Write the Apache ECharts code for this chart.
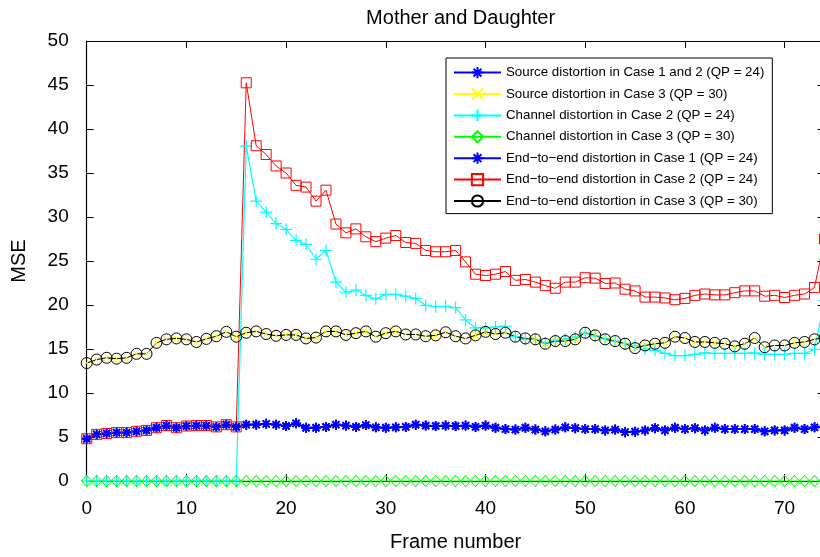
<!DOCTYPE html>
<html>
<head>
<meta charset="utf-8">
<title>Mother and Daughter</title>
<script src="https://cdn.jsdelivr.net/npm/echarts@6/dist/echarts.min.js"></script>
<style>
  html, body { margin: 0; padding: 0; background: #fff; overflow: hidden; }
  /* the axes box runs slightly past the right edge of the view */
  #chart { width: 840px; height: 557px; }
</style>
</head>
<body>
<div id="chart"></div>
<script>
// Frame numbers 0..74
const frames = [];
for (let i = 0; i <= 74; i++) frames.push(i);

const yTicks = [0, 5, 10, 15, 20, 25, 30, 35, 40, 45, 50];
const xTicks = [0, 10, 20, 30, 40, 50, 60, 70];

const seriesNames = [
  'Source distortion in Case 1 and 2 (QP = 24)',
  'Source distortion in Case 3 (QP = 30)',
  'Channel distortion in Case 2 (QP = 24)',
  'Channel distortion in Case 3 (QP = 30)',
  'End\u2212to\u2212end distortion in Case 1 (QP = 24)',
  'End\u2212to\u2212end distortion in Case 2 (QP = 24)',
  'End\u2212to\u2212end distortion in Case 3 (QP = 30)'
];

// MSE per frame
const sourceCase12 = [
  4.8, 5.3, 5.4, 5.5, 5.5, 5.65, 5.75, 6.05, 6.3, 6.05,
  6.25, 6.3, 6.3, 6.15, 6.4, 6.15, 6.4, 6.4, 6.5, 6.4,
  6.25, 6.55, 6.05, 6.05, 6.15, 6.4, 6.3, 6.15, 6.35, 6.1,
  6.05, 6.1, 6.15, 6.4, 6.3, 6.25, 6.3, 6.25, 6.3, 6.15,
  6.3, 6.05, 5.9, 5.85, 6.05, 5.85, 5.65, 5.85, 6.1, 6.0,
  5.9, 5.9, 5.75, 5.85, 5.55, 5.6, 5.75, 6.0, 5.75, 6.05,
  5.9, 6.0, 5.75, 6.05, 5.9, 5.9, 5.9, 5.9, 5.65, 5.75,
  5.75, 6.05, 5.9, 6.1, 6.2
];

const sourceCase3 = [
  13.4, 13.8, 14.0, 13.9, 14.0, 14.45, 14.45, 15.7, 16.1, 16.2,
  16.1, 15.8, 16.15, 16.45, 16.95, 16.4, 16.85, 17.0, 16.7, 16.5,
  16.6, 16.6, 16.2, 16.3, 17.0, 17.0, 16.6, 16.8, 17.0, 16.4,
  16.8, 17.0, 16.65, 16.65, 16.45, 16.55, 16.9, 16.45, 16.2, 16.55,
  16.95, 16.7, 16.85, 16.4, 16.2, 16.1, 15.6, 15.9, 15.9, 16.1,
  16.85, 16.55, 16.1, 15.9, 15.6, 15.1, 15.4, 15.6, 15.7, 16.4,
  16.25, 15.8, 15.8, 15.7, 15.6, 15.3, 15.6, 16.25, 15.2, 15.4,
  15.4, 15.7, 15.8, 16.1, 16.3
];

const channelCase2 = [
  0, 0, 0, 0, 0, 0, 0, 0, 0, 0,
  0, 0, 0, 0, 0, 0, 38.05, 31.8, 30.55, 29.25,
  28.6, 27.35, 26.9, 25.2, 26.2, 22.6, 21.45, 21.7, 21.1, 20.7,
  21.2, 21.2, 21.0, 20.75, 19.95, 19.8, 19.85, 19.7, 18.3, 17.4,
  17.4, 17.5, 17.6, 16.4, 16.1, 16.1, 15.7, 16.0, 16.15, 16.35,
  16.8, 16.5, 16.15, 15.9, 15.6, 15.4, 15.0, 14.85, 14.5, 14.25,
  14.25, 14.4, 14.55, 14.5, 14.5, 14.5, 14.5, 14.55, 14.4, 14.4,
  14.4, 14.5, 14.5, 14.95, 20.5
];

const channelCase3 = [
  0, 0, 0, 0, 0, 0, 0, 0, 0, 0,
  0, 0, 0, 0, 0, 0, 0, 0, 0, 0,
  0, 0, 0, 0, 0, 0, 0, 0, 0, 0,
  0, 0, 0, 0, 0, 0, 0, 0, 0, 0,
  0, 0, 0, 0, 0, 0, 0, 0, 0, 0,
  0, 0, 0, 0, 0, 0, 0, 0, 0, 0,
  0, 0, 0, 0, 0, 0, 0, 0, 0, 0,
  0, 0, 0, 0, 0
];

const endToEndCase1 = [
  4.8, 5.3, 5.4, 5.5, 5.5, 5.65, 5.75, 6.05, 6.3, 6.05,
  6.25, 6.3, 6.3, 6.15, 6.4, 6.15, 6.4, 6.4, 6.5, 6.4,
  6.25, 6.55, 6.05, 6.05, 6.15, 6.4, 6.3, 6.15, 6.35, 6.1,
  6.05, 6.1, 6.15, 6.4, 6.3, 6.25, 6.3, 6.25, 6.3, 6.15,
  6.3, 6.05, 5.9, 5.85, 6.05, 5.85, 5.65, 5.85, 6.1, 6.0,
  5.9, 5.9, 5.75, 5.85, 5.55, 5.6, 5.75, 6.0, 5.75, 6.05,
  5.9, 6.0, 5.75, 6.05, 5.9, 5.9, 5.9, 5.9, 5.65, 5.75,
  5.75, 6.05, 5.9, 6.1, 6.2
];

const endToEndCase2 = [
  4.8, 5.3, 5.4, 5.5, 5.5, 5.65, 5.75, 6.05, 6.3, 6.05,
  6.25, 6.3, 6.3, 6.15, 6.4, 6.15, 45.25, 38.1, 37.1, 35.8,
  35.0, 33.6, 33.4, 31.8, 33.05, 29.2, 28.2, 28.65, 27.75, 27.2,
  27.6, 27.9, 27.1, 27.0, 26.2, 26.05, 26.05, 26.2, 24.9, 23.5,
  23.35, 23.5, 23.8, 22.8, 22.9, 22.6, 22.2, 21.9, 22.6, 22.6,
  23.1, 23.05, 22.45, 22.5, 21.8, 21.6, 20.9, 20.9, 20.8, 20.6,
  20.75, 21.1, 21.25, 21.15, 21.15, 21.4, 21.6, 21.6, 21.0, 21.1,
  20.85, 21.1, 21.25, 22.0, 27.5
];

const endToEndCase3 = [
  13.4, 13.8, 14.0, 13.9, 14.0, 14.45, 14.45, 15.7, 16.1, 16.2,
  16.1, 15.8, 16.15, 16.45, 16.95, 16.4, 16.85, 17.0, 16.7, 16.5,
  16.6, 16.6, 16.2, 16.3, 17.0, 17.0, 16.6, 16.8, 17.0, 16.4,
  16.8, 17.0, 16.65, 16.65, 16.45, 16.55, 16.9, 16.45, 16.2, 16.55,
  16.95, 16.7, 16.85, 16.4, 16.2, 16.1, 15.6, 15.9, 15.9, 16.1,
  16.85, 16.55, 16.1, 15.9, 15.6, 15.1, 15.4, 15.6, 15.7, 16.4,
  16.25, 15.8, 15.8, 15.7, 15.6, 15.3, 15.6, 16.25, 15.2, 15.4,
  15.4, 15.7, 15.8, 16.1, 16.3
];

const FONT = '"Liberation Sans", Arial, Helvetica, sans-serif';

// Stroked marker shapes
const ASTERISK = 'path://M0,5L10,5M5,0L5,10M1.5,1.5L8.5,8.5M8.5,1.5L1.5,8.5';
const CROSS_X = 'path://M0,0L10,10M10,0L0,10';
const PLUS = 'path://M0,5L10,5M5,0L5,10';

function pairs(values) {
  return frames.map((f, i) => [f, values[i]]);
}

function lineSeries(name, values, color, symbol, size, lineWidth, markerWidth) {
  return {
    name: name,
    type: 'line',
    data: pairs(values),
    symbol: symbol,
    symbolSize: size,
    showAllSymbol: true,
    clip: false,
    lineStyle: { color: color, width: lineWidth },
    itemStyle: { color: 'rgba(0,0,0,0)', borderColor: color, borderWidth: markerWidth },
    emphasis: { disabled: true },
    animation: false,
    z: 2
  };
}

const series = [
  lineSeries(seriesNames[0], sourceCase12, '#0000ff', ASTERISK, 10, 1.7, 1.8),
  lineSeries(seriesNames[1], sourceCase3, '#ffff00', CROSS_X, 7, 1, 1),
  lineSeries(seriesNames[2], channelCase2, '#00ffff', PLUS, 12, 1.2, 1.2),
  lineSeries(seriesNames[3], channelCase3, '#00ff00', 'diamond', [10, 11], 1, 1),
  lineSeries(seriesNames[4], endToEndCase1, '#0000ff', ASTERISK, 10, 1.7, 1.8),
  lineSeries(seriesNames[5], endToEndCase2, '#ff0000', 'rect', 10, 1, 1),
  lineSeries(seriesNames[6], endToEndCase3, '#000000', 'circle', 11, 1, 1)
];

const axisLine = { show: true, onZero: false, lineStyle: { color: '#000', width: 1.2 } };
const tickInside = { show: true, inside: true, length: 7, lineStyle: { color: '#000', width: 1 } };

const chart = echarts.init(document.getElementById('chart'), null, { renderer: 'canvas' });
chart.setOption({
  backgroundColor: '#ffffff',
  animation: false,
  title: {
    text: 'Mother and Daughter',
    left: 455.6,
    textAlign: 'center',
    top: 3,
    textStyle: { fontFamily: FONT, fontSize: 20, fontWeight: 'normal', color: '#000' }
  },
  legend: {
    data: seriesNames,
    orient: 'vertical',
    left: 446,
    top: 58,
    itemWidth: 47,
    itemHeight: 14,
    itemGap: 8.2,
    padding: [8, 8, 6, 7],
    backgroundColor: '#ffffff',
    borderColor: '#000',
    borderWidth: 1,
    borderRadius: 0,
    selectedMode: false,
    textStyle: { fontFamily: FONT, fontSize: 13.3, color: '#000' },
    z: 10
  },
  grid: {
    left: 86.7,
    top: 41,
    width: 737.8,
    height: 442,
    containLabel: false
  },
  xAxis: [
    {
      type: 'value',
      position: 'bottom',
      min: xTicks[0],
      max: 74,
      interval: 10,
      name: 'Frame number',
      nameLocation: 'middle',
      nameGap: 51,
      nameTextStyle: { fontFamily: FONT, fontSize: 20, color: '#000' },
      axisLine: axisLine,
      axisTick: tickInside,
      axisLabel: {
        margin: 18,
        showMaxLabel: false,
        fontFamily: FONT,
        fontSize: 19,
        color: '#000',
        formatter: v => (xTicks.indexOf(v) >= 0 ? String(v) : '')
      },
      splitLine: { show: false }
    },
    {
      type: 'value',
      position: 'top',
      min: xTicks[0],
      max: 74,
      interval: 10,
      axisLine: axisLine,
      axisTick: tickInside,
      axisLabel: { show: false },
      splitLine: { show: false }
    }
  ],
  yAxis: [
    {
      type: 'value',
      position: 'left',
      min: yTicks[0],
      max: yTicks[yTicks.length - 1],
      interval: 5,
      name: 'MSE',
      nameLocation: 'middle',
      nameRotate: 90,
      nameGap: 57,
      nameTextStyle: { fontFamily: FONT, fontSize: 20, color: '#000' },
      axisLine: axisLine,
      axisTick: tickInside,
      axisLabel: { margin: 18, fontFamily: FONT, fontSize: 19, color: '#000' },
      splitLine: { show: false }
    },
    {
      type: 'value',
      position: 'right',
      min: yTicks[0],
      max: yTicks[yTicks.length - 1],
      interval: 5,
      axisLine: axisLine,
      axisTick: tickInside,
      axisLabel: { show: false },
      splitLine: { show: false }
    }
  ],
  series: series
});
</script>
</body>
</html>
